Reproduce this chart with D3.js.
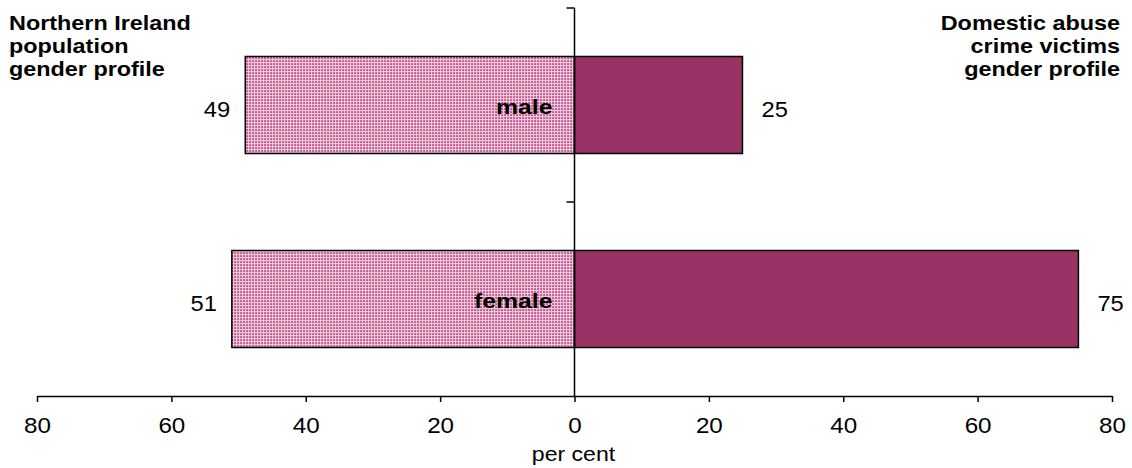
<!DOCTYPE html>
<html><head><meta charset="utf-8">
<script src="https://cdn.jsdelivr.net/npm/d3@7"></script>
<style>
body{margin:0;background:#fff;}
svg{display:block;font-family:"Liberation Sans",Arial,sans-serif;}
</style></head>
<body>
<svg id="chart" width="1132" height="468"></svg>
<script>
const categories = ["male", "female"];
const populationValues = [49, 51];
const victimValues = [25, 75];
const xTicks = [-80, -60, -40, -20, 0, 20, 40, 60, 80];
const leftTitle = ["Northern Ireland", "population", "gender profile"];
const rightTitle = ["Domestic abuse", "crime victims", "gender profile"];
const xLabel = "per cent";

const W = 1132, H = 468;
const svg = d3.select("#chart");

const defs = svg.append("defs");
const pat = defs.append("pattern").attr("id","chk").attr("patternUnits","userSpaceOnUse")
  .attr("width",3).attr("height",3);
pat.append("rect").attr("width",3).attr("height",3).attr("fill","#edc6da");
pat.append("rect").attr("width",2).attr("height",2).attr("fill","#c86e9f");
pat.append("rect").attr("x",1).attr("y",1).attr("width",1).attr("height",1).attr("fill","#b85089");

const x = d3.scaleLinear().domain([-80, 80]).range([37, 1112]);
const y = d3.scaleBand().domain(categories).range([8, 396]).paddingInner(0.5).paddingOuter(0.25);

const g = svg.append("g");

// left bars (population, negative side)
g.selectAll(".pop").data(categories).join("rect")
  .attr("x", (d,i) => x(-populationValues[i]))
  .attr("y", d => y(d))
  .attr("width", (d,i) => x(0) - x(-populationValues[i]))
  .attr("height", y.bandwidth())
  .attr("fill", "url(#chk)")
  .attr("stroke", "#000").attr("stroke-width", 1.5);

// right bars (victims)
g.selectAll(".vic").data(categories).join("rect")
  .attr("x", x(0))
  .attr("y", d => y(d))
  .attr("width", (d,i) => x(victimValues[i]) - x(0))
  .attr("height", y.bandwidth())
  .attr("fill", "#993366")
  .attr("stroke", "#000").attr("stroke-width", 1.5);

// x axis
const xAxis = d3.axisBottom(x).tickValues(xTicks).tickSize(6).tickSizeOuter(0)
  .tickFormat(d => Math.abs(d));
const ax = svg.append("g").attr("transform", "translate(0,396)").call(xAxis);
ax.select(".domain").attr("stroke","#000").attr("stroke-width",1.5);
ax.selectAll(".tick line").attr("stroke","#000").attr("stroke-width",1.5);
ax.selectAll(".tick text").attr("fill","#000").attr("font-size",22)
  .attr("font-family","'Liberation Sans',Arial,sans-serif")
  .attr("y",0).attr("dy",null)
  .attr("transform","translate(0,37) scale(1.1,1)");

// vertical zero axis
const bounds = categories.map(c => y(c) - y.step()*y.paddingInner()/2);
svg.append("line").attr("x1", x(0)).attr("x2", x(0)).attr("y1", 8).attr("y2", 396)
  .attr("stroke","#000").attr("stroke-width",1.5);
svg.selectAll(".ytick").data(bounds).join("line")
  .attr("x1", x(0)-8).attr("x2", x(0)).attr("y1", d=>d).attr("y2", d=>d)
  .attr("stroke","#000").attr("stroke-width",1.5);

// value labels
const mid = c => y(c) + y.bandwidth()/2;
svg.selectAll(".lv").data(categories).join("text")
  .attr("transform",(d,i)=>`translate(${x(-populationValues[i])-15},${mid(d)+12}) scale(1.08,1)`)
  .attr("text-anchor","end").attr("font-size",22).text((d,i)=>populationValues[i]);
svg.selectAll(".rv").data(categories).join("text")
  .attr("transform",(d,i)=>`translate(${x(victimValues[i])+19},${mid(d)+12}) scale(1.08,1)`)
  .attr("text-anchor","start").attr("font-size",22).text((d,i)=>victimValues[i]);

// category labels
svg.selectAll(".cl").data(categories).join("text")
  .attr("transform",d=>`translate(${x(0)-22},${mid(d)+9}) scale(1.18,1)`)
  .attr("text-anchor","end").attr("font-size",21).attr("font-weight","bold").text(d=>d);

// titles
leftTitle.forEach((t,i)=>{
  svg.append("text").attr("transform",`translate(9,${30+i*23}) scale(1.2,1)`)
    .attr("font-size",19.5).attr("font-weight","bold").text(t);
});
rightTitle.forEach((t,i)=>{
  svg.append("text").attr("transform",`translate(1120,${30+i*23}) scale(1.2,1)`)
    .attr("text-anchor","end").attr("font-size",19.5).attr("font-weight","bold").text(t);
});

// x label
svg.append("text").attr("transform",`translate(${x(0)-1},461) scale(1.1,1)`)
  .attr("text-anchor","middle").attr("font-size",21).text(xLabel);
</script>
</body></html>
